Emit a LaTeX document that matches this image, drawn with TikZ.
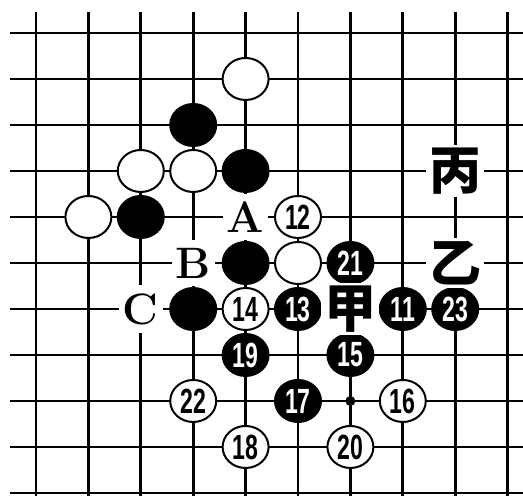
\documentclass[tikz,border=0pt]{standalone}
\usepackage{fontspec}
\newfontfamily\numfont{Liberation Sans}
\newfontfamily\cjkfont{Noto Sans CJK SC}
\usetikzlibrary{shapes.geometric}

\newcommand{\stonenum}[1]{\scalebox{0.66}[1]{#1}}

\tikzset{
  gridline/.style={line width=2.7pt},
  stone/.style={ellipse, draw, line width=2pt, minimum width=46pt, minimum height=42pt, inner sep=0pt,
    font=\numfont\bfseries\fontsize{35}{35}\selectfont},
  wstone/.style={stone, fill=white, text=black},
  bstone/.style={stone, fill=black, text=white},
  letterlbl/.style={fill=white, inner xsep=4pt, inner ysep=8pt, font=\bfseries\fontsize{44}{44}\selectfont},
  cjklbl/.style={fill=white, inner sep=3pt, font=\cjkfont\bfseries\fontsize{52}{52}\selectfont},
  hoshi/.style={circle, fill=black, minimum size=10pt, inner sep=0pt},
}

\begin{document}
\begin{tikzpicture}[x=52.4pt, y=-46pt]
    \useasboundingbox (-0.687,-0.717) rectangle (9.294,10.065);
    % grid
    \foreach \r in {0,...,10}
        \draw [gridline] (-0.496,\r) -- (9.294,\r);
    \foreach \c in {0,...,9}
        \draw [gridline] (\c,-0.457) -- (\c,10.065);
    \node [hoshi] (star) at (6,8) {};
    % stones already on the board
    \node [wstone] (w1) at (4,1) {};
    \node [bstone] (b1) at (3,2) {};
    \node [wstone] (w2) at (2,3) {};
    \node [wstone] (w3) at (3,3) {};
    \node [bstone] (b2) at (4,3) {};
    \node [wstone] (w4) at (1,4) {};
    \node [bstone] (b3) at (2,4) {};
    \node [bstone] (b4) at (4,5) {};
    \node [wstone] (w5) at (5,5) {};
    \node [bstone] (b5) at (3,6) {};
    % numbered moves
    \node [bstone] (m11) at (7,6) {\stonenum{11}};
    \node [wstone] (m12) at (5,4) {\stonenum{12}};
    \node [bstone] (m13) at (5,6) {\stonenum{13}};
    \node [wstone] (m14) at (4,6) {\stonenum{14}};
    \node [bstone] (m15) at (6,7) {\stonenum{15}};
    \node [wstone] (m16) at (7,8) {\stonenum{16}};
    \node [bstone] (m17) at (5,8) {\stonenum{17}};
    \node [wstone] (m18) at (4,9) {\stonenum{18}};
    \node [bstone] (m19) at (4,7) {\stonenum{19}};
    \node [wstone] (m20) at (6,9) {\stonenum{20}};
    \node [bstone] (m21) at (6,5) {\stonenum{21}};
    \node [wstone] (m22) at (3,8) {\stonenum{22}};
    \node [bstone] (m23) at (8,6) {\stonenum{23}};
    % marks
    \node [letterlbl] (ptA) at (4,4) {A};
    \node [letterlbl] (ptB) at (3,5) {B};
    \node [letterlbl] (ptC) at (2,6) {C};
    \node [cjklbl] (jia) at (6,6) {甲};
    \node [cjklbl] (yi) at (8,5) {乙};
    \node [cjklbl] (bing) at (8,3) {丙};
\end{tikzpicture}
\end{document}
